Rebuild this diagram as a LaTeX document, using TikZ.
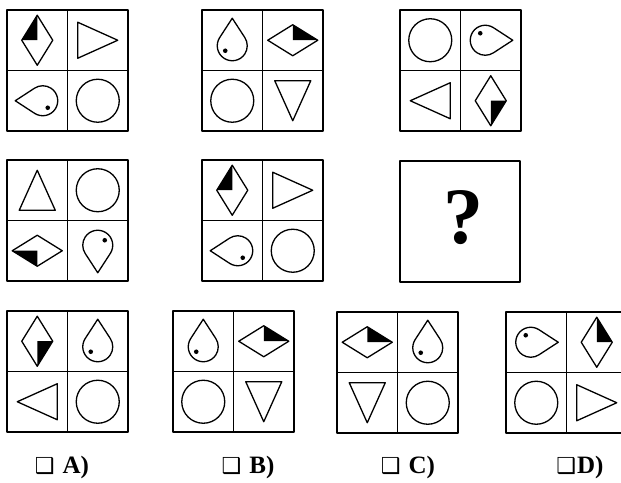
\documentclass[tikz,border=0pt]{standalone}
\usepackage{fontspec}
\setmainfont{Liberation Serif}
\newfontfamily\symfont{DejaVu Sans}

\tikzset{
  cellline/.style={line width=1.6pt},
  shapeline/.style={line width=1.3pt, line join=round},
  pics/board/.style={code={
    \draw[cellline] (0,0) rectangle (121,-121);
    \draw[cellline] (60.5,0) -- (60.5,-121) (0,-60.5) -- (121,-60.5);}},
  pics/roundel/.style={code={\draw[shapeline] (0,0) circle[radius=21.5];}},
  pics/wedge/.style={code={\draw[shapeline] (-20,18) -- (20,0) -- (-20,-18) -- cycle;}},
  pics/gem/.style={code={
    \fill (0,25) -- (-15.5,0) -- (0,0) -- cycle;
    \draw[shapeline] (0,25) -- (-15.5,0) -- (0,-25) -- (15.5,0) -- cycle;}},
  pics/drop/.style={code={
    \draw[shapeline] (0,22) -- (-12.56,2.69) arc[start angle=146.9, end angle=393.1, radius=15] -- cycle;
    \fill (-7,-10.5) circle[radius=2.3];}},
  choice/.style={font=\bfseries\fontsize{25}{25}\selectfont, inner sep=0pt},
  tick/.style={font=\symfont\fontsize{22}{22}\selectfont}
}

\begin{document}
\begin{tikzpicture}[x=1pt, y=1pt, line join=round, line cap=round]
  \useasboundingbox (0,0) rectangle (621,482);

  % 1. Top-left corners of the boards
  \coordinate (G1) at (7,472);
  \coordinate (G2) at (202,472);
  \coordinate (G3) at (400,472);
  \coordinate (G4) at (7,322);
  \coordinate (G5) at (202,322);
  \coordinate (GA) at (7,171);
  \coordinate (GB) at (173,171);
  \coordinate (GC) at (337,170);
  \coordinate (GD) at (506,170);

  % 2. First row
  \begin{scope}[shift={(G1)}]
    \pic at (0,0) {board};
    \pic at (30.25,-30.25) {gem};
    \pic at (90.75,-30.25) {wedge};
    \pic[rotate=90] at (30.25,-90.75) {drop};
    \pic at (90.75,-90.75) {roundel};
  \end{scope}
  \begin{scope}[shift={(G2)}]
    \pic at (0,0) {board};
    \pic at (30.25,-30.25) {drop};
    \pic[rotate=-90] at (90.75,-30.25) {gem};
    \pic at (30.25,-90.75) {roundel};
    \pic[rotate=-90] at (90.75,-90.75) {wedge};
  \end{scope}
  \begin{scope}[shift={(G3)}]
    \pic at (0,0) {board};
    \pic at (30.25,-30.25) {roundel};
    \pic[rotate=-90] at (90.75,-30.25) {drop};
    \pic[rotate=180] at (30.25,-90.75) {wedge};
    \pic[rotate=180] at (90.75,-90.75) {gem};
  \end{scope}

  % 3. Second row
  \begin{scope}[shift={(G4)}]
    \pic at (0,0) {board};
    \pic[rotate=90] at (30.25,-30.25) {wedge};
    \pic at (90.75,-30.25) {roundel};
    \pic[rotate=90] at (30.25,-90.75) {gem};
    \pic[rotate=180] at (90.75,-90.75) {drop};
  \end{scope}
  \begin{scope}[shift={(G5)}]
    \pic at (0,0) {board};
    \pic at (30.25,-30.25) {gem};
    \pic at (90.75,-30.25) {wedge};
    \pic[rotate=90] at (30.25,-90.75) {drop};
    \pic at (90.75,-90.75) {roundel};
  \end{scope}
  \draw[cellline] (400,321) rectangle (520,200);
  \node[inner sep=0pt] (ask) at (463,264) {\fontsize{80}{80}\selectfont\bfseries ?};

  % 4. Answer boards
  \begin{scope}[shift={(GA)}]
    \pic at (0,0) {board};
    \pic[rotate=180] at (30.25,-30.25) {gem};
    \pic at (90.75,-30.25) {drop};
    \pic[rotate=180] at (30.25,-90.75) {wedge};
    \pic at (90.75,-90.75) {roundel};
  \end{scope}
  \begin{scope}[shift={(GB)}]
    \pic at (0,0) {board};
    \pic at (30.25,-30.25) {drop};
    \pic[rotate=-90] at (90.75,-30.25) {gem};
    \pic at (30.25,-90.75) {roundel};
    \pic[rotate=-90] at (90.75,-90.75) {wedge};
  \end{scope}
  \begin{scope}[shift={(GC)}]
    \pic at (0,0) {board};
    \pic[rotate=-90] at (30.25,-30.25) {gem};
    \pic at (90.75,-30.25) {drop};
    \pic[rotate=-90] at (30.25,-90.75) {wedge};
    \pic at (90.75,-90.75) {roundel};
  \end{scope}
  \begin{scope}[shift={(GD)}]
    \pic at (0,0) {board};
    \pic[rotate=-90] at (30.25,-30.25) {drop};
    \pic[xscale=-1] at (90.75,-30.25) {gem};
    \pic at (30.25,-90.75) {roundel};
    \pic at (90.75,-90.75) {wedge};
  \end{scope}

  % 5. Answer labels
  \node[choice] (optA) at (62,15) {{\symfont\fontsize{22}{22}\selectfont ❑}\hspace{8pt}A)};
  \node[choice] (optB) at (248,15) {{\symfont\fontsize{22}{22}\selectfont ❑}\hspace{8pt}B)};
  \node[choice] (optC) at (408,15) {{\symfont\fontsize{22}{22}\selectfont ❑}\hspace{8pt}C)};
  \node[choice] (optD) at (580,15) {{\symfont\fontsize{22}{22}\selectfont ❑}\hspace{1pt}D)};
\end{tikzpicture}
\end{document}
